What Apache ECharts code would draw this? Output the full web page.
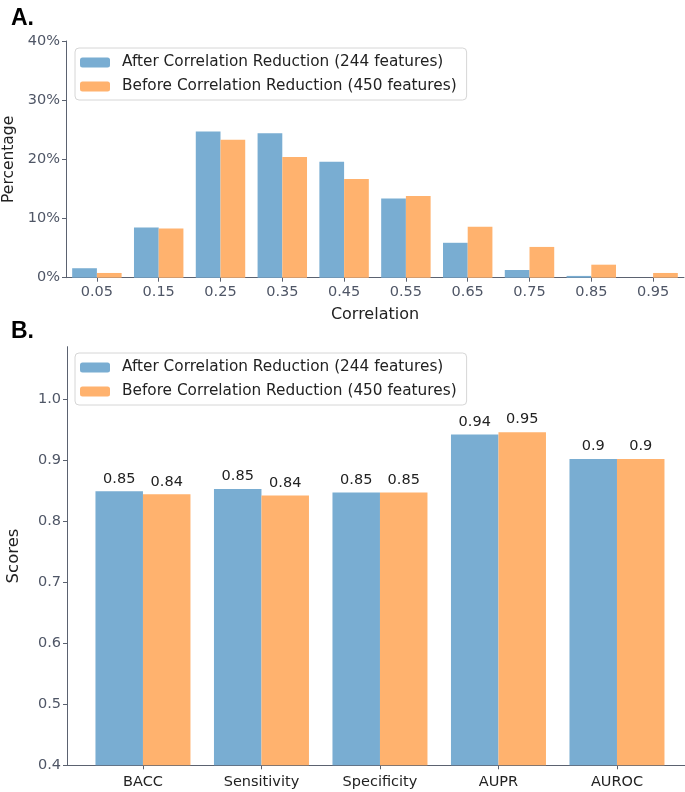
<!DOCTYPE html>
<html>
<head>
<meta charset="utf-8">
<script src="https://cdn.jsdelivr.net/npm/echarts@6/dist/echarts.min.js"></script>
<style>
html,body{margin:0;padding:0;background:#fff;}
#c{width:685px;height:792px;}
</style>
</head>
<body>
<div id="c"></div>
<script>
// ---- Panel A data ----
const corrBins = ['0.05','0.15','0.25','0.35','0.45','0.55','0.65','0.75','0.85','0.95'];
const afterPct  = [1.6, 8.5, 24.7, 24.4, 19.6, 13.4, 5.9, 1.3, 0.3, 0];
const beforePct = [0.8, 8.3, 23.3, 20.4, 16.7, 13.8, 8.6, 5.2, 2.2, 0.8];
const pctTicks = [0, 10, 20, 30, 40];

// ---- Panel B data ----
const metrics = ['BACC','Sensitivity','Specificity','AUPR','AUROC'];
const afterScores  = [0.849, 0.853, 0.847, 0.942, 0.902];
const beforeScores = [0.844, 0.842, 0.847, 0.946, 0.902];
const scoreTicks = [0.4, 0.5, 0.6, 0.7, 0.8, 0.9, 1.0];

const seriesNames = ['After Correlation Reduction (244 features)', 'Before Correlation Reduction (450 features)'];

const BLUE = '#79add2', ORANGE = '#ffb26e';
const FONT = 'DejaVu Sans';
const AXC = '#5b6270', LBC = '#4f5666';

const chart = echarts.init(document.getElementById('c'), null, {renderer:'canvas'});

const axisCommonY = {
  axisLine:{show:true, onZero:false, lineStyle:{color:AXC, width:1}},
  axisTick:{show:true, length:4, lineStyle:{color:AXC}},
  splitLine:{show:false},
  axisLabel:{color:LBC, fontFamily:FONT, fontSize:14.5, margin:6}
};

const legendCommon = {
  orient:'vertical', left:75,
  itemWidth:30, itemHeight:10, itemGap:9,
  padding:[7,10,6,5], borderColor:'#d6d6d6', borderWidth:1, borderRadius:4,
  textStyle:{fontFamily:FONT, fontSize:15.3, color:'#222', padding:[0,0,0,7]},
  selectedMode:false
};

const option = {
  animation:false,
  backgroundColor:'#fff',
  textStyle:{fontFamily:FONT},
  title:[
    {text:'A.', left:6, top:2, textStyle:{fontFamily:'Liberation Sans', fontWeight:'bold', fontSize:23, color:'#000'}},
    {text:'B.', left:6, top:315, textStyle:{fontFamily:'Liberation Sans', fontWeight:'bold', fontSize:23, color:'#000'}}
  ],
  legend:[
    Object.assign({}, legendCommon, {data:seriesNames.map(n=>({name:n})), top:48}),
    Object.assign({}, legendCommon, {data:seriesNames.map(n=>({name:n})), top:353})
  ],
  grid:[
    {left:66, right:1, top:41, bottom:514.3, containLabel:false, outerBoundsMode:'none'},
    {left:67, right:0, top:346.7, bottom:26.7, containLabel:false, outerBoundsMode:'none'}
  ],
  xAxis:[
    {
      gridIndex:0, type:'category', data:corrBins, boundaryGap:true,
      axisLine:{show:true, lineStyle:{color:AXC}},
      axisTick:{show:true, alignWithLabel:true, length:4, lineStyle:{color:AXC}},
      axisLabel:{color:LBC, fontFamily:FONT, fontSize:14.5, margin:7},
      name:'Correlation', nameLocation:'middle', nameGap:29,
      nameTextStyle:{fontFamily:FONT, fontSize:16, color:'#222'}
    },
    {
      gridIndex:1, type:'value', min:-0.641, max:4.574,
      splitLine:{show:false},
      axisLine:{show:true, onZero:false, lineStyle:{color:AXC}},
      axisTick:{show:true, length:4, lineStyle:{color:AXC}, customValues:[0,1,2,3,4]},
      axisLabel:{color:'#222', fontFamily:FONT, fontSize:14.5, margin:9,
        customValues:[0,1,2,3,4],
        formatter:v=>metrics[Math.round(v)] || ''}
    }
  ],
  yAxis:[
    Object.assign({}, axisCommonY, {
      gridIndex:0, type:'value', min:0, max:40, interval:10,
      axisLabel:Object.assign({}, axisCommonY.axisLabel, {formatter:v=>v+'%'}),
      name:'Percentage', nameLocation:'middle', nameGap:48, nameRotate:90,
      nameTextStyle:{fontFamily:FONT, fontSize:15.5, color:'#222'}
    }),
    Object.assign({}, axisCommonY, {
      gridIndex:1, type:'value', min:0.4, max:1.086,
      axisTick:Object.assign({}, axisCommonY.axisTick, {customValues:scoreTicks}),
      axisLabel:Object.assign({}, axisCommonY.axisLabel, {customValues:scoreTicks, formatter:v=>v.toFixed(1)}),
      name:'Scores', nameLocation:'middle', nameGap:45, nameRotate:90,
      nameTextStyle:{fontFamily:FONT, fontSize:16.5, color:'#222'}
    })
  ],
  series:[
    {name:seriesNames[0], type:'bar', xAxisIndex:0, yAxisIndex:0, data:afterPct,
     itemStyle:{color:BLUE}, barWidth:'40%', barGap:'0%'},
    {name:seriesNames[1], type:'bar', xAxisIndex:0, yAxisIndex:0, data:beforePct,
     itemStyle:{color:ORANGE}, barWidth:'40%', barGap:'0%'},
    {name:seriesNames[0], type:'bar', xAxisIndex:1, yAxisIndex:1,
     data:afterScores.map((v,i)=>[i,v]),
     itemStyle:{color:BLUE}, barWidth:47.5, barGap:'0%',
     label:{show:true, position:'top', distance:5, color:'#222', fontFamily:FONT, fontSize:14.5,
       formatter:p=>String(Math.round(p.value[1]*100)/100)}},
    {name:seriesNames[1], type:'bar', xAxisIndex:1, yAxisIndex:1,
     data:beforeScores.map((v,i)=>[i,v]),
     itemStyle:{color:ORANGE}, barWidth:47.5, barGap:'0%',
     label:{show:true, position:'top', distance:5, color:'#222', fontFamily:FONT, fontSize:14.5,
       formatter:p=>String(Math.round(p.value[1]*100)/100)}}
  ]
};
chart.setOption(option);
</script>
</body>
</html>
